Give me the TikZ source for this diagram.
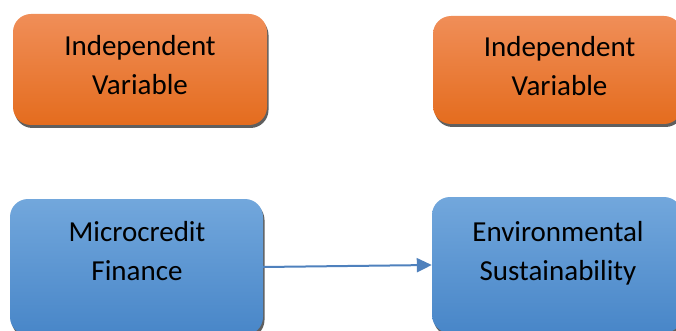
\documentclass[tikz,border=0pt]{standalone}
\usepackage{fontspec}
\setmainfont{Carlito}
\usetikzlibrary{shadows,arrows.meta}
\definecolor{orTop}{RGB}{240,142,88}
\definecolor{orMid}{RGB}{243,125,45}
\definecolor{orBot}{RGB}{228,108,30}
\definecolor{blTop}{RGB}{114,167,220}
\definecolor{blMid}{RGB}{88,152,214}
\definecolor{blBot}{RGB}{72,134,200}
\definecolor{arrowBlue}{RGB}{79,129,189}
\definecolor{shadowGray}{RGB}{95,95,95}
\tikzset{
  boxbase/.style={rounded corners=18pt, inner sep=0pt,
    drop shadow={shadow xshift=1.5pt, shadow yshift=-3pt, fill=shadowGray, opacity=1}},
  orangebox/.style={boxbase, top color=orTop, middle color=orMid, bottom color=orBot},
  bluebox/.style={boxbase, top color=blTop, middle color=blMid, bottom color=blBot},
  boxtext/.style={align=center, font=\fontsize{29}{39}\selectfont, text=black, inner sep=0pt},
  link/.style={draw=arrowBlue, line width=2pt, -{Triangle[length=15pt,width=14pt]}}
}
\begin{document}
\begin{tikzpicture}[x=1pt,y=-1pt]
\useasboundingbox (0,0) rectangle (676,331);
\clip (0,0) rectangle (676,331);
% boxes
\node[orangebox, minimum width=254pt, minimum height=111pt] (iv1) at (140,69.5) {};
\node[orangebox, minimum width=249pt, minimum height=108pt] (iv2) at (557.5,70) {};
\node[bluebox, minimum width=253pt, minimum height=136pt] (mf) at (136.5,267) {};
\node[bluebox, minimum width=250pt, minimum height=136pt] (es) at (557,265) {};
% texts
\node[boxtext] (t1) at (140,65.5) {Independent\\Variable};
\node[boxtext] (t2) at (559.5,66.5) {Independent\\Variable};
\node[boxtext] (t3) at (137,251.5) {Microcredit\\Finance};
\node[boxtext] (t4) at (558,253) {Environmental\\Sustainability};
% connector
\draw[link] (mf.east) -- (es.west);
\end{tikzpicture}
\end{document}
